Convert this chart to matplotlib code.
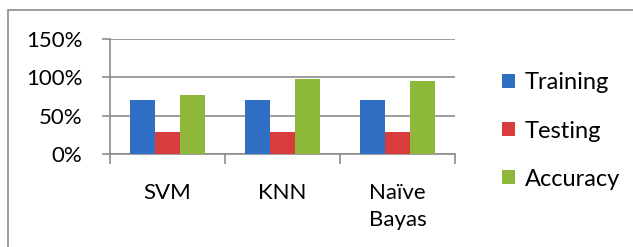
import numpy as np
import matplotlib
matplotlib.use("Agg")
import matplotlib.pyplot as plt
from matplotlib.patches import Rectangle

plt.rcParams['font.family'] = ['Lato', 'DejaVu Sans']

categories = ["SVM", "KNN", "Naïve\nBayas"]
series = ["Training", "Testing", "Accuracy"]
training = [0.70, 0.70, 0.70]
testing = [0.29, 0.29, 0.29]
accuracy = [0.77, 0.98, 0.95]
colors = ["#2f6fc4", "#d93c3c", "#8db83a"]

fig = plt.figure(figsize=(6.33, 2.47), dpi=100)
W, H = 633, 247
# chart border (cut off on right/bottom like the reference)
fig.patches.append(Rectangle((8 / W, -0.1), 1.0, (H - 10) / H + 0.1, transform=fig.transFigure,
                             fill=False, edgecolor="#8c8c8c", linewidth=1.2))

ax = fig.add_axes([110 / W, 1 - 154 / H, 345 / W, 115 / H])
x = np.arange(len(categories))
bw = 0.22
for i, (vals, name) in enumerate(zip([training, testing, accuracy], series)):
    ax.bar(x + (i - 1) * bw, vals, bw, color=colors[i], label=name, zorder=3,
           edgecolor="none")

ax.set_xlim(-0.5, len(categories) - 0.5)
ax.set_ylim(0, 1.5)
ax.set_yticks([0, 0.5, 1.0, 1.5])
ax.set_yticklabels(["0%", "50%", "100%", "150%"])
ax.set_xticks(x)
ax.set_xticklabels(categories, fontsize=16, linespacing=1.45, va="top")
ax.set_xticks(np.arange(-0.5, len(categories)), minor=True)
ax.tick_params(axis="x", which="major", length=0, pad=21)
ax.tick_params(axis="x", which="minor", length=7, color="#8c8c8c", width=1.2)
ax.tick_params(axis="y", length=6, color="#8c8c8c", width=1.2, pad=14, labelsize=16)
ax.grid(axis="y", color="#8c8c8c", linewidth=1.2, zorder=0)
for s in ["top", "right"]:
    ax.spines[s].set_visible(False)
for s in ["left", "bottom"]:
    ax.spines[s].set_color("#8c8c8c")
    ax.spines[s].set_linewidth(1.2)

fig.legend(loc="center left", bbox_to_anchor=(481 / W, 1 - 131 / H), frameon=False,
           fontsize=17, handlelength=0.55, handleheight=0.55, handletextpad=0.4,
           labelspacing=1.15)

fig.savefig("out.png", dpi=100)
